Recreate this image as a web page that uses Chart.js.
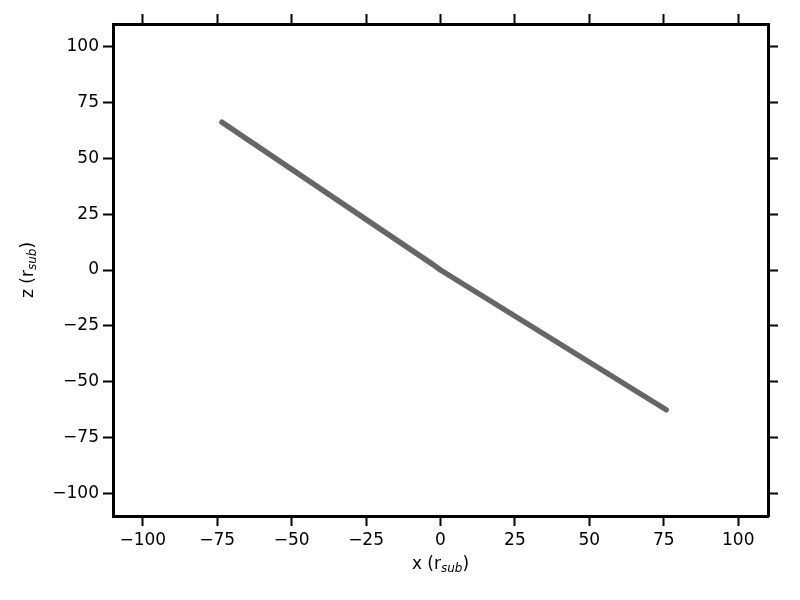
<!DOCTYPE html>
<html><head><meta charset="utf-8">
<script src="https://cdn.jsdelivr.net/npm/chart.js@4"></script>
<style>html,body{margin:0;padding:0;background:#fff}</style>
</head><body>
<canvas id="c" width="800" height="600"></canvas>
<script>
// Data
const xValues = [-73.4, -2.5, 0, 75.8];
const zValues = [66.1, 2.4, 0, -62.5];
const tickValues = [-100, -75, -50, -25, 0, 25, 50, 75, 100];
const axisMin = -110, axisMax = 110;
const xTitleParts = ['x (r', 'sub', ')'];
const yTitleParts = ['z (r', 'sub', ')'];

const FONT = 'DejaVu Sans';
const fmt = v => (v < 0 ? '\u2212' + Math.abs(v) : String(v));

function axis(position, showLabels, size) {
  const horiz = position === 'top' || position === 'bottom';
  return {
    type: 'linear', position, min: axisMin, max: axisMax,
    afterBuildTicks: s => { s.ticks = tickValues.map(v => ({ value: v })); },
    afterFit: s => { if (horiz) s.height = size; else s.width = size; },
    ticks: { display: showLabels, color: '#000', font: { family: FONT, size: 17 },
             padding: 4, autoSkip: false, maxRotation: 0, callback: v => fmt(v) },
    grid: { drawOnChartArea: false, drawTicks: true, tickLength: 10, tickWidth: 2, tickColor: '#000' },
    border: { display: true, width: 3, color: '#000' }
  };
}

function drawParts(ctx, parts, cx, cy) {
  const main = '17px "' + FONT + '"';
  const sub = 'italic 12px "' + FONT + '"';
  ctx.font = main; const w0 = ctx.measureText(parts[0]).width; const w2 = ctx.measureText(parts[2]).width;
  ctx.font = sub; const w1 = ctx.measureText(parts[1]).width;
  let x = cx - (w0 + w1 + w2) / 2;
  ctx.textBaseline = 'middle'; ctx.textAlign = 'left'; ctx.fillStyle = '#000';
  ctx.font = main; ctx.fillText(parts[0], x, cy); x += w0;
  ctx.font = sub; ctx.fillText(parts[1], x, cy + 4); x += w1;
  ctx.font = main; ctx.fillText(parts[2], x, cy);
}

const titles = {
  id: 'titles',
  afterDraw(chart) {
    const ctx = chart.ctx; const a = chart.chartArea;
    ctx.save();
    drawParts(ctx, xTitleParts, (a.left + a.right) / 2, 565);
    ctx.translate(29, (a.top + a.bottom) / 2); ctx.rotate(-Math.PI / 2);
    drawParts(ctx, yTitleParts, 0, 0);
    ctx.restore();
  }
};

new Chart(document.getElementById('c'), {
  type: 'scatter',
  data: { datasets: [{
    data: xValues.map((x, i) => ({ x, y: zValues[i] })),
    showLine: true, borderColor: '#666666', borderWidth: 5.5, borderCapStyle: 'round', borderJoinStyle: 'round',
    pointRadius: 0, xAxisID: 'x', yAxisID: 'y'
  }] },
  options: {
    responsive: false, animation: false, devicePixelRatio: 1,
    layout: { padding: { left: 0, top: 12, right: 20, bottom: 0 } },
    plugins: { legend: { display: false }, tooltip: { enabled: false } },
    scales: {
      x: axis('bottom', true, 84),
      x2: axis('top', false, 12),
      y: axis('left', true, 113),
      y2: axis('right', false, 12)
    }
  },
  plugins: [titles]
});
</script>
</body></html>
